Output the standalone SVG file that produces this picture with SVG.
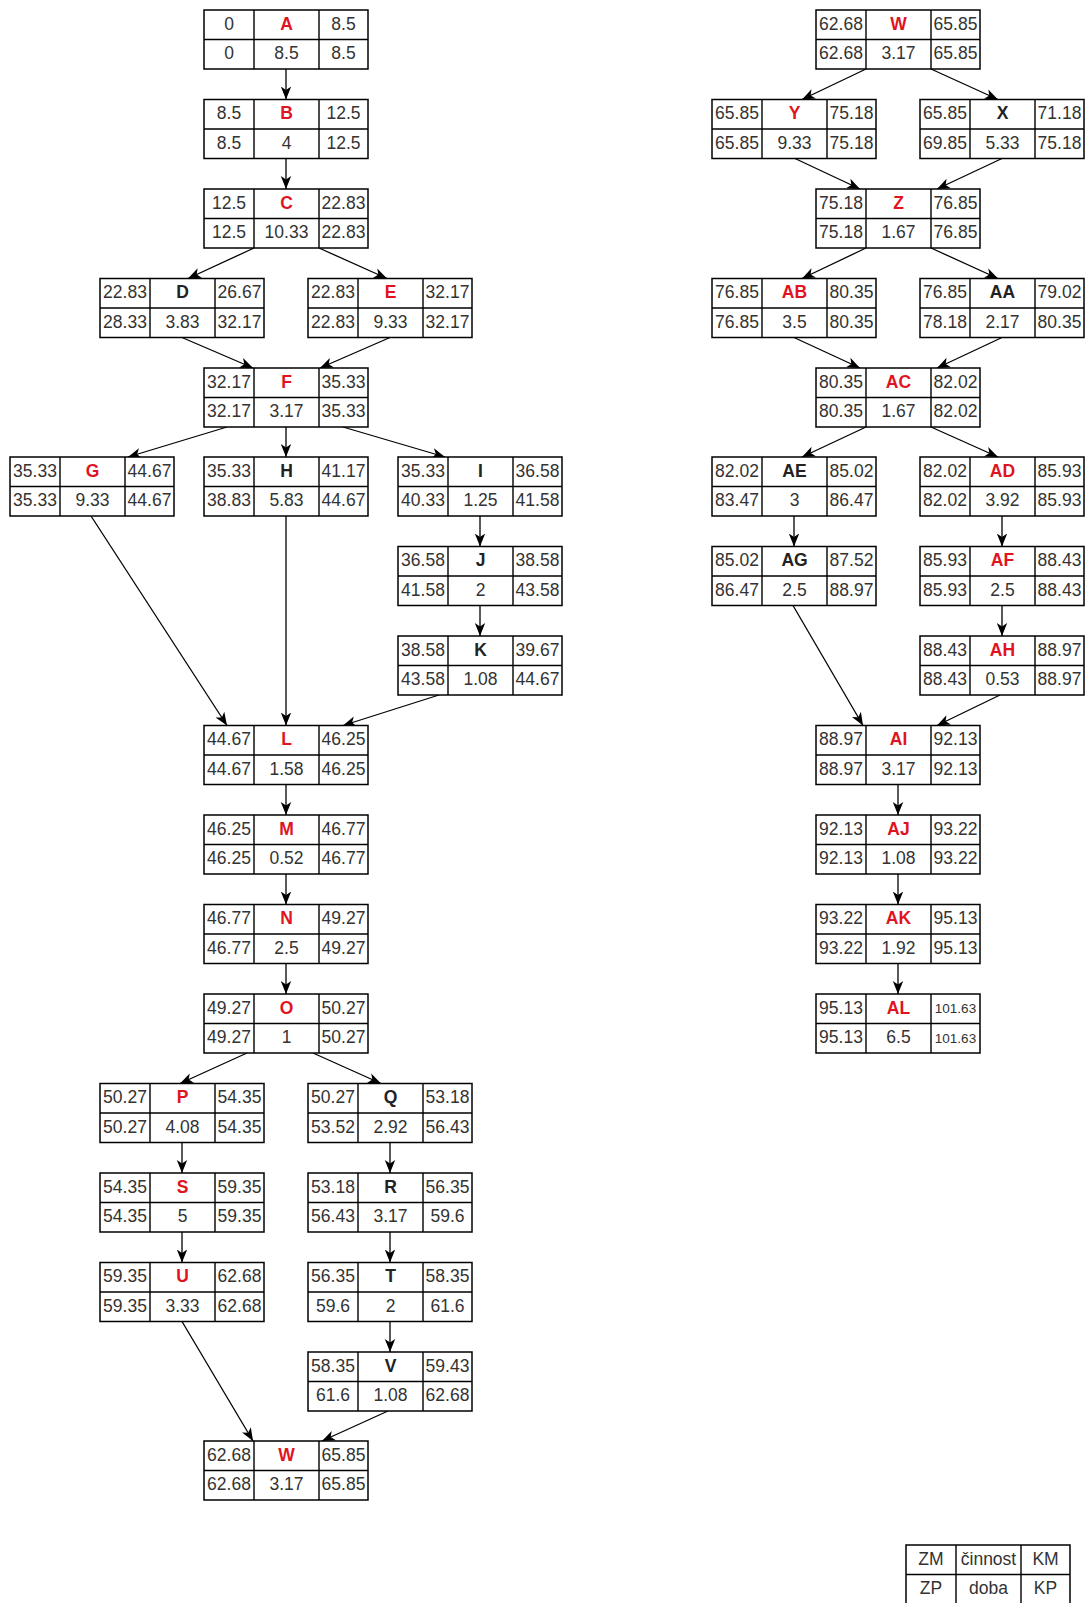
<svg xmlns="http://www.w3.org/2000/svg" xmlns:xlink="http://www.w3.org/1999/xlink" width="1087" height="1603" viewBox="0 0 1087 1603">
<style>
.box{fill:#fff;stroke:#000;stroke-width:1.5}
.grid{fill:none;stroke:#000;stroke-width:1.4}
text{font-family:"Liberation Sans",Arial,sans-serif;font-size:17.5px;text-anchor:middle;fill:#333}
.l{font-weight:bold;fill:#222}
.r{font-weight:bold;fill:#e0141e}
.sm{font-size:13.5px}
.e{fill:none;stroke:#000;stroke-width:1.3;marker-end:url(#ah)}
</style>
<defs>
<marker id="ah" markerUnits="userSpaceOnUse" markerWidth="14" markerHeight="12" viewBox="0 0 14 12" refX="13" refY="6" orient="auto">
<path d="M0,0.8 L13,6 L0,11.2 L3.5,6 Z" fill="#000"/>
</marker>
<g id="tbl">
<rect class="box" x="0" y="0" width="164" height="59"/>
<path class="grid" d="M50,0V59M115,0V59M0,29.5H164"/>
</g>
</defs>
<rect width="1087" height="1603" fill="#fff"/>
<g id="connectors">
<path class="e" d="M286,69V99.5"/>
<path class="e" d="M286,158.5V189"/>
<path class="e" d="M254,248L188,278.5"/>
<path class="e" d="M319,248L387,278.5"/>
<path class="e" d="M182,337.5L253,368"/>
<path class="e" d="M390,337.5L320,368"/>
<path class="e" d="M227,427L128,457"/>
<path class="e" d="M286,427V457"/>
<path class="e" d="M343,427L445,457"/>
<path class="e" d="M91,516L227,725.5"/>
<path class="e" d="M286,516V725.5"/>
<path class="e" d="M480,516V546.5"/>
<path class="e" d="M480,605.5V636"/>
<path class="e" d="M439,695L343,725.5"/>
<path class="e" d="M286,784.5V815"/>
<path class="e" d="M286,874V904.5"/>
<path class="e" d="M286,963.5V994"/>
<path class="e" d="M247,1053L180,1083.5"/>
<path class="e" d="M313,1053L381,1083.5"/>
<path class="e" d="M182,1142.5V1173"/>
<path class="e" d="M182,1232V1262.5"/>
<path class="e" d="M390,1142.5V1173"/>
<path class="e" d="M390,1232V1262.5"/>
<path class="e" d="M390,1321.5V1352"/>
<path class="e" d="M182,1321.5L253,1441"/>
<path class="e" d="M388,1411L322,1441"/>
<path class="e" d="M866,69L802,99.5"/>
<path class="e" d="M931,69L998,99.5"/>
<path class="e" d="M795,158.5L860,189"/>
<path class="e" d="M1002,158.5L937,189"/>
<path class="e" d="M866,248L802,278.5"/>
<path class="e" d="M931,248L998,278.5"/>
<path class="e" d="M794,337.5L860,368"/>
<path class="e" d="M1002,337.5L937,368"/>
<path class="e" d="M866,427L802,457"/>
<path class="e" d="M931,427L998,457"/>
<path class="e" d="M794,516V546.5"/>
<path class="e" d="M1002,516V546.5"/>
<path class="e" d="M1002,605.5V636"/>
<path class="e" d="M793,605.5L863,725.5"/>
<path class="e" d="M1000,695L937,725.5"/>
<path class="e" d="M898,784.5V815"/>
<path class="e" d="M898,874V904.5"/>
<path class="e" d="M898,963.5V994"/>
</g>
<g id="A" transform="translate(204,10)"><use href="#tbl"/><text x="25" y="19.5">0</text><text class="r" x="82.5" y="19.5">A</text><text x="139.5" y="19.5">8.5</text><text x="25" y="49">0</text><text x="82.5" y="49">8.5</text><text x="139.5" y="49">8.5</text></g>
<g id="B" transform="translate(204,99.5)"><use href="#tbl"/><text x="25" y="19.5">8.5</text><text class="r" x="82.5" y="19.5">B</text><text x="139.5" y="19.5">12.5</text><text x="25" y="49">8.5</text><text x="82.5" y="49">4</text><text x="139.5" y="49">12.5</text></g>
<g id="C" transform="translate(204,189)"><use href="#tbl"/><text x="25" y="19.5">12.5</text><text class="r" x="82.5" y="19.5">C</text><text x="139.5" y="19.5">22.83</text><text x="25" y="49">12.5</text><text x="82.5" y="49">10.33</text><text x="139.5" y="49">22.83</text></g>
<g id="D" transform="translate(100,278.5)"><use href="#tbl"/><text x="25" y="19.5">22.83</text><text class="l" x="82.5" y="19.5">D</text><text x="139.5" y="19.5">26.67</text><text x="25" y="49">28.33</text><text x="82.5" y="49">3.83</text><text x="139.5" y="49">32.17</text></g>
<g id="E" transform="translate(308,278.5)"><use href="#tbl"/><text x="25" y="19.5">22.83</text><text class="r" x="82.5" y="19.5">E</text><text x="139.5" y="19.5">32.17</text><text x="25" y="49">22.83</text><text x="82.5" y="49">9.33</text><text x="139.5" y="49">32.17</text></g>
<g id="F" transform="translate(204,368)"><use href="#tbl"/><text x="25" y="19.5">32.17</text><text class="r" x="82.5" y="19.5">F</text><text x="139.5" y="19.5">35.33</text><text x="25" y="49">32.17</text><text x="82.5" y="49">3.17</text><text x="139.5" y="49">35.33</text></g>
<g id="G" transform="translate(10,457)"><use href="#tbl"/><text x="25" y="19.5">35.33</text><text class="r" x="82.5" y="19.5">G</text><text x="139.5" y="19.5">44.67</text><text x="25" y="49">35.33</text><text x="82.5" y="49">9.33</text><text x="139.5" y="49">44.67</text></g>
<g id="H" transform="translate(204,457)"><use href="#tbl"/><text x="25" y="19.5">35.33</text><text class="l" x="82.5" y="19.5">H</text><text x="139.5" y="19.5">41.17</text><text x="25" y="49">38.83</text><text x="82.5" y="49">5.83</text><text x="139.5" y="49">44.67</text></g>
<g id="I" transform="translate(398,457)"><use href="#tbl"/><text x="25" y="19.5">35.33</text><text class="l" x="82.5" y="19.5">I</text><text x="139.5" y="19.5">36.58</text><text x="25" y="49">40.33</text><text x="82.5" y="49">1.25</text><text x="139.5" y="49">41.58</text></g>
<g id="J" transform="translate(398,546.5)"><use href="#tbl"/><text x="25" y="19.5">36.58</text><text class="l" x="82.5" y="19.5">J</text><text x="139.5" y="19.5">38.58</text><text x="25" y="49">41.58</text><text x="82.5" y="49">2</text><text x="139.5" y="49">43.58</text></g>
<g id="K" transform="translate(398,636)"><use href="#tbl"/><text x="25" y="19.5">38.58</text><text class="l" x="82.5" y="19.5">K</text><text x="139.5" y="19.5">39.67</text><text x="25" y="49">43.58</text><text x="82.5" y="49">1.08</text><text x="139.5" y="49">44.67</text></g>
<g id="L" transform="translate(204,725.5)"><use href="#tbl"/><text x="25" y="19.5">44.67</text><text class="r" x="82.5" y="19.5">L</text><text x="139.5" y="19.5">46.25</text><text x="25" y="49">44.67</text><text x="82.5" y="49">1.58</text><text x="139.5" y="49">46.25</text></g>
<g id="M" transform="translate(204,815)"><use href="#tbl"/><text x="25" y="19.5">46.25</text><text class="r" x="82.5" y="19.5">M</text><text x="139.5" y="19.5">46.77</text><text x="25" y="49">46.25</text><text x="82.5" y="49">0.52</text><text x="139.5" y="49">46.77</text></g>
<g id="N" transform="translate(204,904.5)"><use href="#tbl"/><text x="25" y="19.5">46.77</text><text class="r" x="82.5" y="19.5">N</text><text x="139.5" y="19.5">49.27</text><text x="25" y="49">46.77</text><text x="82.5" y="49">2.5</text><text x="139.5" y="49">49.27</text></g>
<g id="O" transform="translate(204,994)"><use href="#tbl"/><text x="25" y="19.5">49.27</text><text class="r" x="82.5" y="19.5">O</text><text x="139.5" y="19.5">50.27</text><text x="25" y="49">49.27</text><text x="82.5" y="49">1</text><text x="139.5" y="49">50.27</text></g>
<g id="P" transform="translate(100,1083.5)"><use href="#tbl"/><text x="25" y="19.5">50.27</text><text class="r" x="82.5" y="19.5">P</text><text x="139.5" y="19.5">54.35</text><text x="25" y="49">50.27</text><text x="82.5" y="49">4.08</text><text x="139.5" y="49">54.35</text></g>
<g id="Q" transform="translate(308,1083.5)"><use href="#tbl"/><text x="25" y="19.5">50.27</text><text class="l" x="82.5" y="19.5">Q</text><text x="139.5" y="19.5">53.18</text><text x="25" y="49">53.52</text><text x="82.5" y="49">2.92</text><text x="139.5" y="49">56.43</text></g>
<g id="S" transform="translate(100,1173)"><use href="#tbl"/><text x="25" y="19.5">54.35</text><text class="r" x="82.5" y="19.5">S</text><text x="139.5" y="19.5">59.35</text><text x="25" y="49">54.35</text><text x="82.5" y="49">5</text><text x="139.5" y="49">59.35</text></g>
<g id="R" transform="translate(308,1173)"><use href="#tbl"/><text x="25" y="19.5">53.18</text><text class="l" x="82.5" y="19.5">R</text><text x="139.5" y="19.5">56.35</text><text x="25" y="49">56.43</text><text x="82.5" y="49">3.17</text><text x="139.5" y="49">59.6</text></g>
<g id="U" transform="translate(100,1262.5)"><use href="#tbl"/><text x="25" y="19.5">59.35</text><text class="r" x="82.5" y="19.5">U</text><text x="139.5" y="19.5">62.68</text><text x="25" y="49">59.35</text><text x="82.5" y="49">3.33</text><text x="139.5" y="49">62.68</text></g>
<g id="T" transform="translate(308,1262.5)"><use href="#tbl"/><text x="25" y="19.5">56.35</text><text class="l" x="82.5" y="19.5">T</text><text x="139.5" y="19.5">58.35</text><text x="25" y="49">59.6</text><text x="82.5" y="49">2</text><text x="139.5" y="49">61.6</text></g>
<g id="V" transform="translate(308,1352)"><use href="#tbl"/><text x="25" y="19.5">58.35</text><text class="l" x="82.5" y="19.5">V</text><text x="139.5" y="19.5">59.43</text><text x="25" y="49">61.6</text><text x="82.5" y="49">1.08</text><text x="139.5" y="49">62.68</text></g>
<g id="W" transform="translate(204,1441)"><use href="#tbl"/><text x="25" y="19.5">62.68</text><text class="r" x="82.5" y="19.5">W</text><text x="139.5" y="19.5">65.85</text><text x="25" y="49">62.68</text><text x="82.5" y="49">3.17</text><text x="139.5" y="49">65.85</text></g>
<g id="W2" transform="translate(816,10)"><use href="#tbl"/><text x="25" y="19.5">62.68</text><text class="r" x="82.5" y="19.5">W</text><text x="139.5" y="19.5">65.85</text><text x="25" y="49">62.68</text><text x="82.5" y="49">3.17</text><text x="139.5" y="49">65.85</text></g>
<g id="Y" transform="translate(712,99.5)"><use href="#tbl"/><text x="25" y="19.5">65.85</text><text class="r" x="82.5" y="19.5">Y</text><text x="139.5" y="19.5">75.18</text><text x="25" y="49">65.85</text><text x="82.5" y="49">9.33</text><text x="139.5" y="49">75.18</text></g>
<g id="X" transform="translate(920,99.5)"><use href="#tbl"/><text x="25" y="19.5">65.85</text><text class="l" x="82.5" y="19.5">X</text><text x="139.5" y="19.5">71.18</text><text x="25" y="49">69.85</text><text x="82.5" y="49">5.33</text><text x="139.5" y="49">75.18</text></g>
<g id="Z" transform="translate(816,189)"><use href="#tbl"/><text x="25" y="19.5">75.18</text><text class="r" x="82.5" y="19.5">Z</text><text x="139.5" y="19.5">76.85</text><text x="25" y="49">75.18</text><text x="82.5" y="49">1.67</text><text x="139.5" y="49">76.85</text></g>
<g id="AB" transform="translate(712,278.5)"><use href="#tbl"/><text x="25" y="19.5">76.85</text><text class="r" x="82.5" y="19.5">AB</text><text x="139.5" y="19.5">80.35</text><text x="25" y="49">76.85</text><text x="82.5" y="49">3.5</text><text x="139.5" y="49">80.35</text></g>
<g id="AA" transform="translate(920,278.5)"><use href="#tbl"/><text x="25" y="19.5">76.85</text><text class="l" x="82.5" y="19.5">AA</text><text x="139.5" y="19.5">79.02</text><text x="25" y="49">78.18</text><text x="82.5" y="49">2.17</text><text x="139.5" y="49">80.35</text></g>
<g id="AC" transform="translate(816,368)"><use href="#tbl"/><text x="25" y="19.5">80.35</text><text class="r" x="82.5" y="19.5">AC</text><text x="139.5" y="19.5">82.02</text><text x="25" y="49">80.35</text><text x="82.5" y="49">1.67</text><text x="139.5" y="49">82.02</text></g>
<g id="AE" transform="translate(712,457)"><use href="#tbl"/><text x="25" y="19.5">82.02</text><text class="l" x="82.5" y="19.5">AE</text><text x="139.5" y="19.5">85.02</text><text x="25" y="49">83.47</text><text x="82.5" y="49">3</text><text x="139.5" y="49">86.47</text></g>
<g id="AD" transform="translate(920,457)"><use href="#tbl"/><text x="25" y="19.5">82.02</text><text class="r" x="82.5" y="19.5">AD</text><text x="139.5" y="19.5">85.93</text><text x="25" y="49">82.02</text><text x="82.5" y="49">3.92</text><text x="139.5" y="49">85.93</text></g>
<g id="AG" transform="translate(712,546.5)"><use href="#tbl"/><text x="25" y="19.5">85.02</text><text class="l" x="82.5" y="19.5">AG</text><text x="139.5" y="19.5">87.52</text><text x="25" y="49">86.47</text><text x="82.5" y="49">2.5</text><text x="139.5" y="49">88.97</text></g>
<g id="AF" transform="translate(920,546.5)"><use href="#tbl"/><text x="25" y="19.5">85.93</text><text class="r" x="82.5" y="19.5">AF</text><text x="139.5" y="19.5">88.43</text><text x="25" y="49">85.93</text><text x="82.5" y="49">2.5</text><text x="139.5" y="49">88.43</text></g>
<g id="AH" transform="translate(920,636)"><use href="#tbl"/><text x="25" y="19.5">88.43</text><text class="r" x="82.5" y="19.5">AH</text><text x="139.5" y="19.5">88.97</text><text x="25" y="49">88.43</text><text x="82.5" y="49">0.53</text><text x="139.5" y="49">88.97</text></g>
<g id="AI" transform="translate(816,725.5)"><use href="#tbl"/><text x="25" y="19.5">88.97</text><text class="r" x="82.5" y="19.5">AI</text><text x="139.5" y="19.5">92.13</text><text x="25" y="49">88.97</text><text x="82.5" y="49">3.17</text><text x="139.5" y="49">92.13</text></g>
<g id="AJ" transform="translate(816,815)"><use href="#tbl"/><text x="25" y="19.5">92.13</text><text class="r" x="82.5" y="19.5">AJ</text><text x="139.5" y="19.5">93.22</text><text x="25" y="49">92.13</text><text x="82.5" y="49">1.08</text><text x="139.5" y="49">93.22</text></g>
<g id="AK" transform="translate(816,904.5)"><use href="#tbl"/><text x="25" y="19.5">93.22</text><text class="r" x="82.5" y="19.5">AK</text><text x="139.5" y="19.5">95.13</text><text x="25" y="49">93.22</text><text x="82.5" y="49">1.92</text><text x="139.5" y="49">95.13</text></g>
<g id="AL" transform="translate(816,994)"><use href="#tbl"/><text x="25" y="19.5">95.13</text><text class="r" x="82.5" y="19.5">AL</text><text class="sm" x="139.5" y="19">101.63</text><text x="25" y="49">95.13</text><text x="82.5" y="49">6.5</text><text class="sm" x="139.5" y="48.5">101.63</text></g>
<g id="legend" transform="translate(906,1545)"><use href="#tbl"/><text x="25" y="19.5">ZM</text><text x="82.5" y="19.5">činnost</text><text x="139.5" y="19.5">KM</text><text x="25" y="49">ZP</text><text x="82.5" y="49">doba</text><text x="139.5" y="49">KP</text></g>
</svg>
